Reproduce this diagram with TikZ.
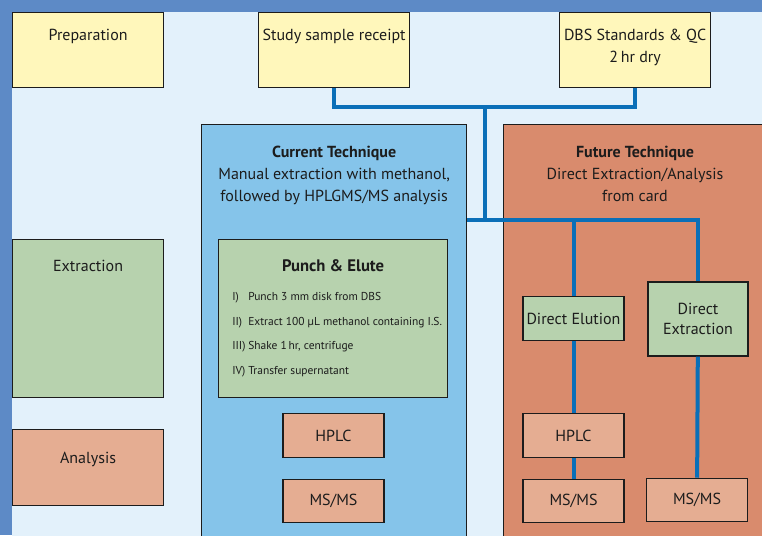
\documentclass[tikz,border=0pt]{standalone}
\usepackage{fontspec}
\setmainfont{PT Sans}
\usetikzlibrary{positioning}
\definecolor{framebg}{HTML}{5D8AC6}
\definecolor{pagebg}{HTML}{E3F1FB}
\definecolor{prepfill}{HTML}{FFF7BB}
\definecolor{extrfill}{HTML}{B7D2AE}
\definecolor{analfill}{HTML}{E5AD92}
\definecolor{curfill}{HTML}{85C4EA}
\definecolor{futfill}{HTML}{D98B6D}
\definecolor{linkblue}{HTML}{0A6FB8}
\definecolor{ink}{HTML}{1C1C1C}
\newcommand{\pitem}[2]{\makebox[12pt][l]{#1}#2}
\begin{document}
\begin{tikzpicture}[
  x=0.75pt, y=-0.75pt,
  box/.style={draw=ink, line width=0.9pt, inner sep=0pt},
  stagebox/.style={box, anchor=north west, minimum width=113.25pt},
  smallbox/.style={box, fill=analfill, minimum width=75.75pt, minimum height=32.5pt, font=\fontsize{12}{15.5}\selectfont, text=ink, align=center},
  boxlabel/.style={inner sep=0pt, font=\fontsize{12}{16.5}\selectfont, text=ink, align=center},
  panel/.style={box, anchor=north west, minimum height=315pt},
  link/.style={draw=linkblue, line width=3pt},
]
  \useasboundingbox (0,0) rectangle (762,535);
  \clip (0,0) rectangle (762,535);
  \fill[framebg] (0,0) rectangle (762,535);
  \fill[pagebg] (12,12) rectangle (770,545);

  % stages on the left
  \node[stagebox, fill=prepfill, minimum height=56.25pt] (prep) at (12,12) {};
  \node[boxlabel, below=13pt of prep.north] (preptxt) {Preparation};
  \node[stagebox, fill=extrfill, minimum height=118.5pt] (extr) at (12,239) {};
  \node[boxlabel, below=16pt of extr.north] (extrtxt) {Extraction};
  \node[stagebox, fill=analfill, minimum height=57pt] (anal) at (12,429) {};
  \node[boxlabel, below=17pt of anal.north] (analtxt) {Analysis};

  % samples
  \node[stagebox, fill=prepfill, minimum height=56.25pt] (receipt) at (258,12) {};
  \node[boxlabel, below=13pt of receipt.north] (receipttxt) {Study sample receipt};
  \node[stagebox, fill=prepfill, minimum height=56.25pt] (dbs) at (559,12) {};
  \node[boxlabel, below=13pt of dbs.north] (dbstxt) {DBS Standards \& QC\\2\,hr dry};

  % techniques
  \node[panel, fill=curfill, minimum width=198.75pt] (current) at (201,124) {};
  \node[boxlabel, below=16.5pt of current.north] (curtxt)
    {\textbf{Current Technique}\\Manual extraction with methanol,\\followed by HPLGMS/MS analysis};
  \node[panel, fill=futfill, minimum width=210pt] (future) at (503,124) {};
  \node[boxlabel, anchor=north] (futtxt) at (635,146)
    {\textbf{Future Technique}\\Direct Extraction/Analysis\\from card};

  % current technique
  \node[box, fill=extrfill, anchor=north west, minimum width=171.75pt, minimum height=118.5pt] (punch) at (218,239) {};
  \node[boxlabel, below=15pt of punch.north, font=\fontsize{12.5}{15}\selectfont\bfseries] (punchtxt) {Punch \& Elute};
  \node[boxlabel, anchor=north west, align=left, font=\fontsize{8.6}{18.5}\selectfont] (punchsteps) at (232,292)
    {\pitem{I)}{Punch 3 mm disk from DBS}\\
     \pitem{II)}{Extract 100 µL methanol containing I.S.}\\
     \pitem{III)}{Shake 1\,hr, centrifuge}\\
     \pitem{IV)}{Transfer supernatant}};
  \node[smallbox] (hplcA) at (333.5,435.5) {HPLC};
  \node[smallbox, below=15.75pt of hplcA] (msA) {MS/MS};

  % future technique
  \node[smallbox, fill=extrfill] (elution) at (573.5,318.5) {Direct Elution};
  \node[smallbox, fill=extrfill, minimum width=75pt, minimum height=55.5pt] (direct) at (698,319) {Direct\\Extraction};
  \node[smallbox] (hplcB) at (573.5,435.5) {HPLC};
  \node[smallbox, below=15.75pt of hplcB] (msB) {MS/MS};
  \node[smallbox] (msC) at (697,500) {MS/MS};

  % connectors
  \coordinate (join) at (484.5,107);
  \coordinate (hub) at (484.5,220);
  \draw[link] (receipt.south) |- (join) -| (dbs.south);
  \draw[link] (join) -- (hub);
  \draw[link] (current.east |- hub) -| (direct.north);
  \draw[link] (elution.north |- hub) -- (elution.north);
  \draw[link] (elution) -- (hplcB);
  \draw[link] (hplcB) -- (msB);
  \draw[link] (direct) -- (msC);
\end{tikzpicture}
\end{document}
